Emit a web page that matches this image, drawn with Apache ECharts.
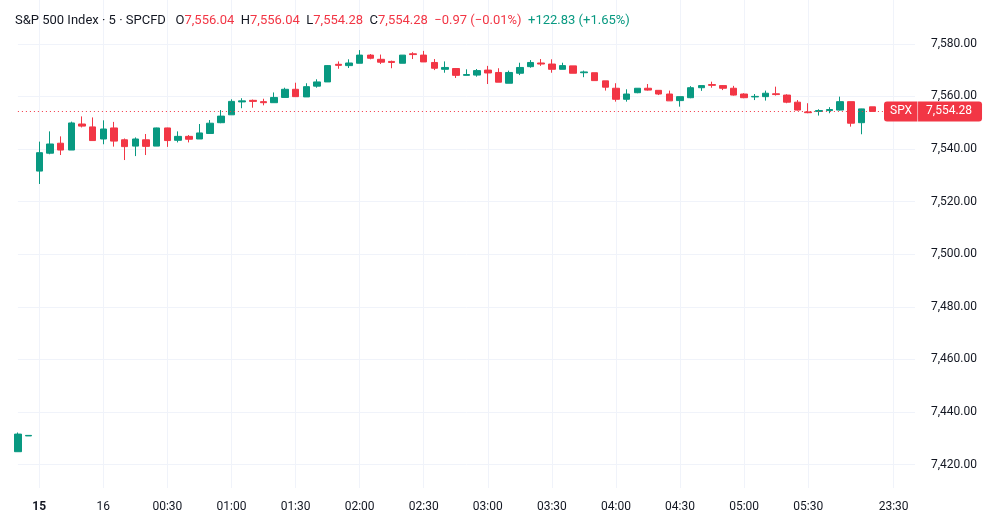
<!DOCTYPE html>
<html>
<head>
<meta charset="utf-8">
<script src="https://cdn.jsdelivr.net/npm/echarts@6/dist/echarts.min.js"></script>
<style>
	html, body { margin: 0; padding: 0; background: #fff; }
	#chart { width: 1000px; height: 526px; }
</style>
</head>
<body>
<div id="chart"></div>
<script>
	// 5 minute candles
	var opens = [
		7424.9, 7430.9, 7531.6, 7538.4, 7542.2, 7539.6, 7549.5, 7548.4, 7543.8, 7548.0,
		7543.5, 7541.1, 7543.5, 7541.1, 7548.0, 7543.3, 7544.8, 7543.8, 7545.9, 7550.0,
		7553.0, 7557.9, 7558.5, 7558.0, 7557.6, 7559.6, 7562.7, 7559.8, 7563.9, 7565.5,
		7572.2, 7571.7, 7572.6, 7575.7, 7574.1, 7573.3, 7572.6, 7576.2, 7575.7, 7572.9,
		7570.3, 7570.6, 7568.0, 7568.1, 7570.0, 7569.1, 7565.0, 7568.8, 7571.3, 7572.7,
		7572.3, 7570.3, 7571.6, 7569.0, 7569.0, 7565.9, 7563.1, 7558.9, 7561.4, 7563.1,
		7562.3, 7560.9, 7558.4, 7559.5, 7563.3, 7564.5, 7564.1, 7563.1, 7560.9, 7559.8,
		7559.9, 7561.0, 7560.5, 7557.8, 7554.1, 7554.3, 7554.6, 7554.8, 7558.0, 7550.0,
		7556.04
	];
	var closes = [
		7431.6, 7431.1, 7538.6, 7541.9, 7539.6, 7549.9, 7548.7, 7543.2, 7547.6, 7543.0,
		7540.9, 7543.8, 7541.0, 7548.0, 7543.2, 7544.8, 7543.7, 7546.1, 7549.8, 7552.5,
		7558.1, 7558.3, 7558.1, 7557.6, 7559.6, 7562.7, 7559.9, 7563.7, 7565.5, 7571.7,
		7571.8, 7572.7, 7575.7, 7574.5, 7573.0, 7572.9, 7575.7, 7575.9, 7573.1, 7570.7,
		7571.0, 7568.0, 7568.3, 7569.8, 7568.9, 7565.4, 7569.1, 7571.0, 7572.9, 7572.3,
		7570.3, 7571.7, 7568.8, 7569.3, 7566.0, 7563.5, 7558.9, 7560.9, 7563.1, 7562.4,
		7560.9, 7558.3, 7559.9, 7563.3, 7564.1, 7564.2, 7563.1, 7560.5, 7559.5, 7560.0,
		7561.2, 7560.7, 7557.8, 7554.8, 7553.8, 7554.6, 7555.0, 7558.0, 7549.8, 7555.25,
		7554.28
	];
	var lows = [
		7424.9, 7430.9, 7526.7, 7538.0, 7537.7, 7539.6, 7548.2, 7543.2, 7541.8, 7540.9,
		7535.8, 7537.3, 7537.7, 7541.1, 7540.8, 7542.5, 7542.5, 7543.8, 7545.9, 7549.8,
		7553.0, 7555.5, 7555.7, 7556.6, 7557.6, 7559.6, 7559.9, 7559.8, 7563.3, 7565.5,
		7570.5, 7570.8, 7572.6, 7574.1, 7572.3, 7570.7, 7572.6, 7574.2, 7573.1, 7570.0,
		7569.0, 7567.0, 7568.0, 7567.5, 7564.7, 7565.4, 7565.0, 7568.1, 7570.9, 7571.6,
		7569.0, 7570.3, 7568.8, 7567.3, 7566.0, 7562.2, 7558.0, 7558.0, 7561.2, 7562.2,
		7560.5, 7558.3, 7556.1, 7559.3, 7562.1, 7563.3, 7562.4, 7560.3, 7559.3, 7558.6,
		7558.4, 7560.3, 7557.4, 7554.6, 7553.6, 7552.7, 7553.6, 7554.6, 7548.5, 7545.6,
		7554.28
	];
	var highs = [
		7432.2, 7431.1, 7542.8, 7546.7, 7544.8, 7550.4, 7552.4, 7552.0, 7550.9, 7550.3,
		7544.0, 7544.4, 7545.7, 7548.1, 7548.1, 7546.7, 7545.3, 7549.5, 7551.0, 7554.8,
		7558.9, 7559.3, 7558.8, 7559.1, 7561.5, 7563.3, 7565.2, 7565.0, 7566.5, 7571.9,
		7573.3, 7574.1, 7577.6, 7576.1, 7575.9, 7573.6, 7575.7, 7576.8, 7577.3, 7574.2,
		7573.3, 7570.8, 7570.3, 7570.4, 7571.6, 7570.7, 7569.8, 7572.8, 7573.8, 7574.2,
		7574.1, 7572.8, 7571.6, 7569.8, 7569.0, 7565.9, 7565.0, 7562.7, 7563.1, 7564.7,
		7562.3, 7562.2, 7559.9, 7563.9, 7564.1, 7565.6, 7564.3, 7564.0, 7561.2, 7560.9,
		7562.2, 7563.7, 7560.8, 7558.6, 7557.4, 7555.1, 7555.9, 7559.9, 7558.0, 7555.2,
		7556.04
	];

	// x slots incl. empty space on the right
	var slotCount = 85;
	var tickIndex = [2, 8, 14, 20, 26, 32, 38, 44, 50, 56, 62, 68, 74, 82];
	var tickText = ['15', '16', '00:30', '01:00', '01:30', '02:00', '02:30', '03:00', '03:30', '04:00', '04:30', '05:00', '05:30', '23:30'];
	var boldTicks = ['15'];

	var lastPrice = 7554.28;
	var symbolName = 'SPX';
	var headerName = 'S&P 500 Index · 5 · SPCFD';
	var headerChange = '\u22120.97 (\u22120.01%)';
	var headerDayChange = '+122.83 (+1.65%)';

	var upColor = '#089981';
	var downColor = '#f23645';
	var textColor = '#131722';
	var gridColor = '#f0f3fa';
	var fontName = 'Roboto, "Noto Sans", sans-serif';

	function fmtPrice(v){
		var parts = v.toFixed(2).split('.');
		parts[0] = parts[0].replace(/\B(?=(\d{3})+(?!\d))/g, ',');
		return parts.join('.');
	}

	var categories = [];
	for(var i = 0; i < slotCount; i++)
		categories.push(String(i));

	var candleData = [];
	for(var i = 0; i < opens.length; i++)
		candleData.push([opens[i], closes[i], lows[i], highs[i]]);

	function isTick(index){
		return tickIndex.indexOf(index) >= 0;
	}

	var last = opens.length - 1;
	var headerText = '{t|' + headerName + '}   '
		+ '{k|O}{r|' + fmtPrice(opens[last]) + '}  '
		+ '{k|H}{r|' + fmtPrice(highs[last]) + '}  '
		+ '{k|L}{r|' + fmtPrice(lows[last]) + '}  '
		+ '{k|C}{r|' + fmtPrice(closes[last]) + '}  '
		+ '{r|' + headerChange + '}  '
		+ '{g|' + headerDayChange + '}';

	var chart = echarts.init(document.getElementById('chart'));
	chart.setOption({
		animation: false,
		backgroundColor: '#fff',
		textStyle: { fontFamily: fontName },
		title: {
			left: 10,
			top: 9,
			text: headerText,
			textStyle: {
				fontSize: 13,
				fontWeight: 'normal',
				rich: {
					t: { color: textColor, fontSize: 13, fontFamily: fontName },
					k: { color: textColor, fontSize: 13, fontFamily: fontName },
					r: { color: downColor, fontSize: 13, fontFamily: fontName },
					g: { color: upColor, fontSize: 13, fontFamily: fontName }
				}
			}
		},
		grid: {
			left: 17.9,
			right: 85,
			top: 0,
			bottom: 38
		},
		xAxis: {
			type: 'category',
			data: categories,
			boundaryGap: false,
			axisLine: { show: false },
			axisTick: { show: false },
			axisLabel: {
				interval: function(index){ return isTick(index); },
				formatter: function(value, index){
					var k = tickIndex.indexOf(index);
					if(k < 0)
						return '';
					if(boldTicks.indexOf(tickText[k]) >= 0)
						return '{b|' + tickText[k] + '}';
					return tickText[k];
				},
				color: textColor,
				fontSize: 12,
				margin: 13,
				rich: {
					b: { fontWeight: 'bold', color: textColor, fontSize: 12 }
				}
			},
			splitLine: {
				show: true,
				interval: function(index){ return isTick(index); },
				lineStyle: { color: gridColor, width: 1 }
			}
		},
		yAxis: {
			type: 'value',
			position: 'right',
			min: 7411.1,
			max: 7596.65,
			splitNumber: 9,
			minInterval: 20,
			maxInterval: 20,
			axisLine: { show: false },
			axisTick: { show: false },
			axisLabel: {
				showMinLabel: false,
				showMaxLabel: false,
				align: 'right',
				margin: 62,
				color: textColor,
				fontSize: 12,
				formatter: fmtPrice
			},
			splitLine: {
				showMinLine: false,
				showMaxLine: false,
				lineStyle: { color: gridColor, width: 1 }
			}
		},
		series: [
			{
				type: 'candlestick',
				data: candleData,
				clip: false,
				barWidth: 7,
				itemStyle: {
					color: upColor,
					color0: downColor,
					borderColor: upColor,
					borderColor0: downColor,
					borderWidth: 1
				},
				markLine: {
					silent: true,
					symbol: 'none',
					lineStyle: { color: downColor, type: [1, 3], width: 1 },
					label: {
						show: true,
						position: 'end',
						distance: -31,
						formatter: '{s|' + symbolName + '}{d|}{p|' + fmtPrice(lastPrice) + '}',
						rich: {
							s: { color: '#fff', backgroundColor: downColor, fontSize: 12, lineHeight: 12, padding: [4, 5, 4, 6], borderRadius: [3, 0, 0, 3] },
							d: { backgroundColor: '#f7a1a8', width: 1, height: 20 },
							p: { color: '#fff', backgroundColor: downColor, fontSize: 12, lineHeight: 12, padding: [4, 10, 4, 8], borderRadius: [0, 3, 3, 0] }
						}
					},
					data: [ { yAxis: lastPrice } ]
				}
			}
		]
	});
</script>
</body>
</html>
